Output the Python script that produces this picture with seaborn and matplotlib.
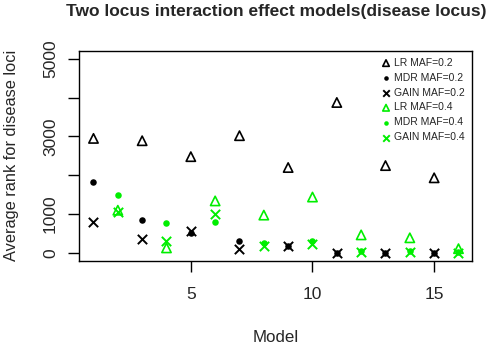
import matplotlib
matplotlib.use("Agg")
import matplotlib.pyplot as plt
import seaborn as sns
import pandas as pd

models_a = [1, 3, 5, 7, 9, 11, 13, 15]
models_b = [2, 4, 6, 8, 10, 12, 14, 16]
lr_02 = [2950, 2890, 2480, 3020, 2200, 3875, 2250, 1935]
mdr_02 = [1820, 850, 525, 320, 170, 0, 0, 0]
gain_02 = [800, 355, 575, 100, 170, 0, 0, 0]
lr_04 = [1100, 130, 1340, 975, 1440, 465, 390, 110]
mdr_04 = [1480, 780, 795, 255, 315, 40, 40, 20]
gain_04 = [1060, 315, 1000, 185, 240, 15, 15, 0]
y_ticks = [0, 1000, 2000, 3000, 4000, 5000]
y_ticklabels = ["0", "1000", "", "3000", "", "5000"]
x_ticks = [5, 10, 15]

sns.set_style("white")
plt.rcParams['font.family'] = ['Liberation Sans', 'DejaVu Sans']

fig = plt.figure(figsize=(4.9, 3.46), dpi=100)
ax = fig.add_axes([0.161, 0.2465, 0.802, 0.606])

green = "#00ee00"
series = [
    ("LR MAF=0.2", models_a, lr_02, "^", "black", True),
    ("MDR MAF=0.2", models_a, mdr_02, "o", "black", False),
    ("GAIN MAF=0.2", models_a, gain_02, "x", "black", None),
    ("LR MAF=0.4", models_b, lr_04, "^", green, True),
    ("MDR MAF=0.4", models_b, mdr_04, "o", green, False),
    ("GAIN MAF=0.4", models_b, gain_04, "x", green, None),
]
for label, xs, ys, mk, col, hollow in series:
    df = pd.DataFrame({"Model": xs, "Rank": ys})
    if hollow is True:
        sns.scatterplot(data=df, x="Model", y="Rank", marker=mk, s=45,
                        facecolor="none", edgecolor=col, linewidth=1.2, ax=ax, label=label)
    elif hollow is False:
        sns.scatterplot(data=df, x="Model", y="Rank", marker=mk, s=22,
                        color=col, edgecolor=col, linewidth=0, ax=ax, label=label)
    else:
        sns.scatterplot(data=df, x="Model", y="Rank", marker=mk, s=45,
                        color=col, linewidth=1.4, ax=ax, label=label)

ax.set_xlim(0.4, 16.55)
ax.set_ylim(-200, 5200)
ax.set_xticks(x_ticks)
ax.set_xticklabels([str(t) for t in x_ticks], fontsize=12.5)
ax.set_yticks(y_ticks)
ax.set_yticklabels(y_ticklabels, fontsize=12.5, rotation=90, va="center")
ax.tick_params(axis="both", direction="out", length=8, width=1, color="black",
               bottom=True, left=True)
ax.tick_params(axis="x", pad=11)
ax.tick_params(axis="y", pad=7)
for sp in ax.spines.values():
    sp.set_color("black")
    sp.set_linewidth(1)

ax.set_xlabel("Model", fontsize=12.2)
ax.set_ylabel("Average rank for disease loci", fontsize=11.8)
ax.xaxis.set_label_coords(0.5, -0.364)
ax.xaxis.label.set_va("center")
ax.yaxis.set_label_coords(-0.1705, 0.5)
ax.yaxis.label.set_va("center")
fig.text(0.563, 0.968, "Two locus interaction effect models(disease locus)",
         fontsize=12.5, fontweight="bold", ha="center", va="center")

leg = ax.legend(loc="upper right", frameon=False, fontsize=7.5, handletextpad=0.3,
                labelspacing=0.47, borderaxespad=0.25, markerscale=0.7, handlelength=1.0,
                bbox_to_anchor=(1.0, 1.0))

fig.savefig("out.png", dpi=100)
